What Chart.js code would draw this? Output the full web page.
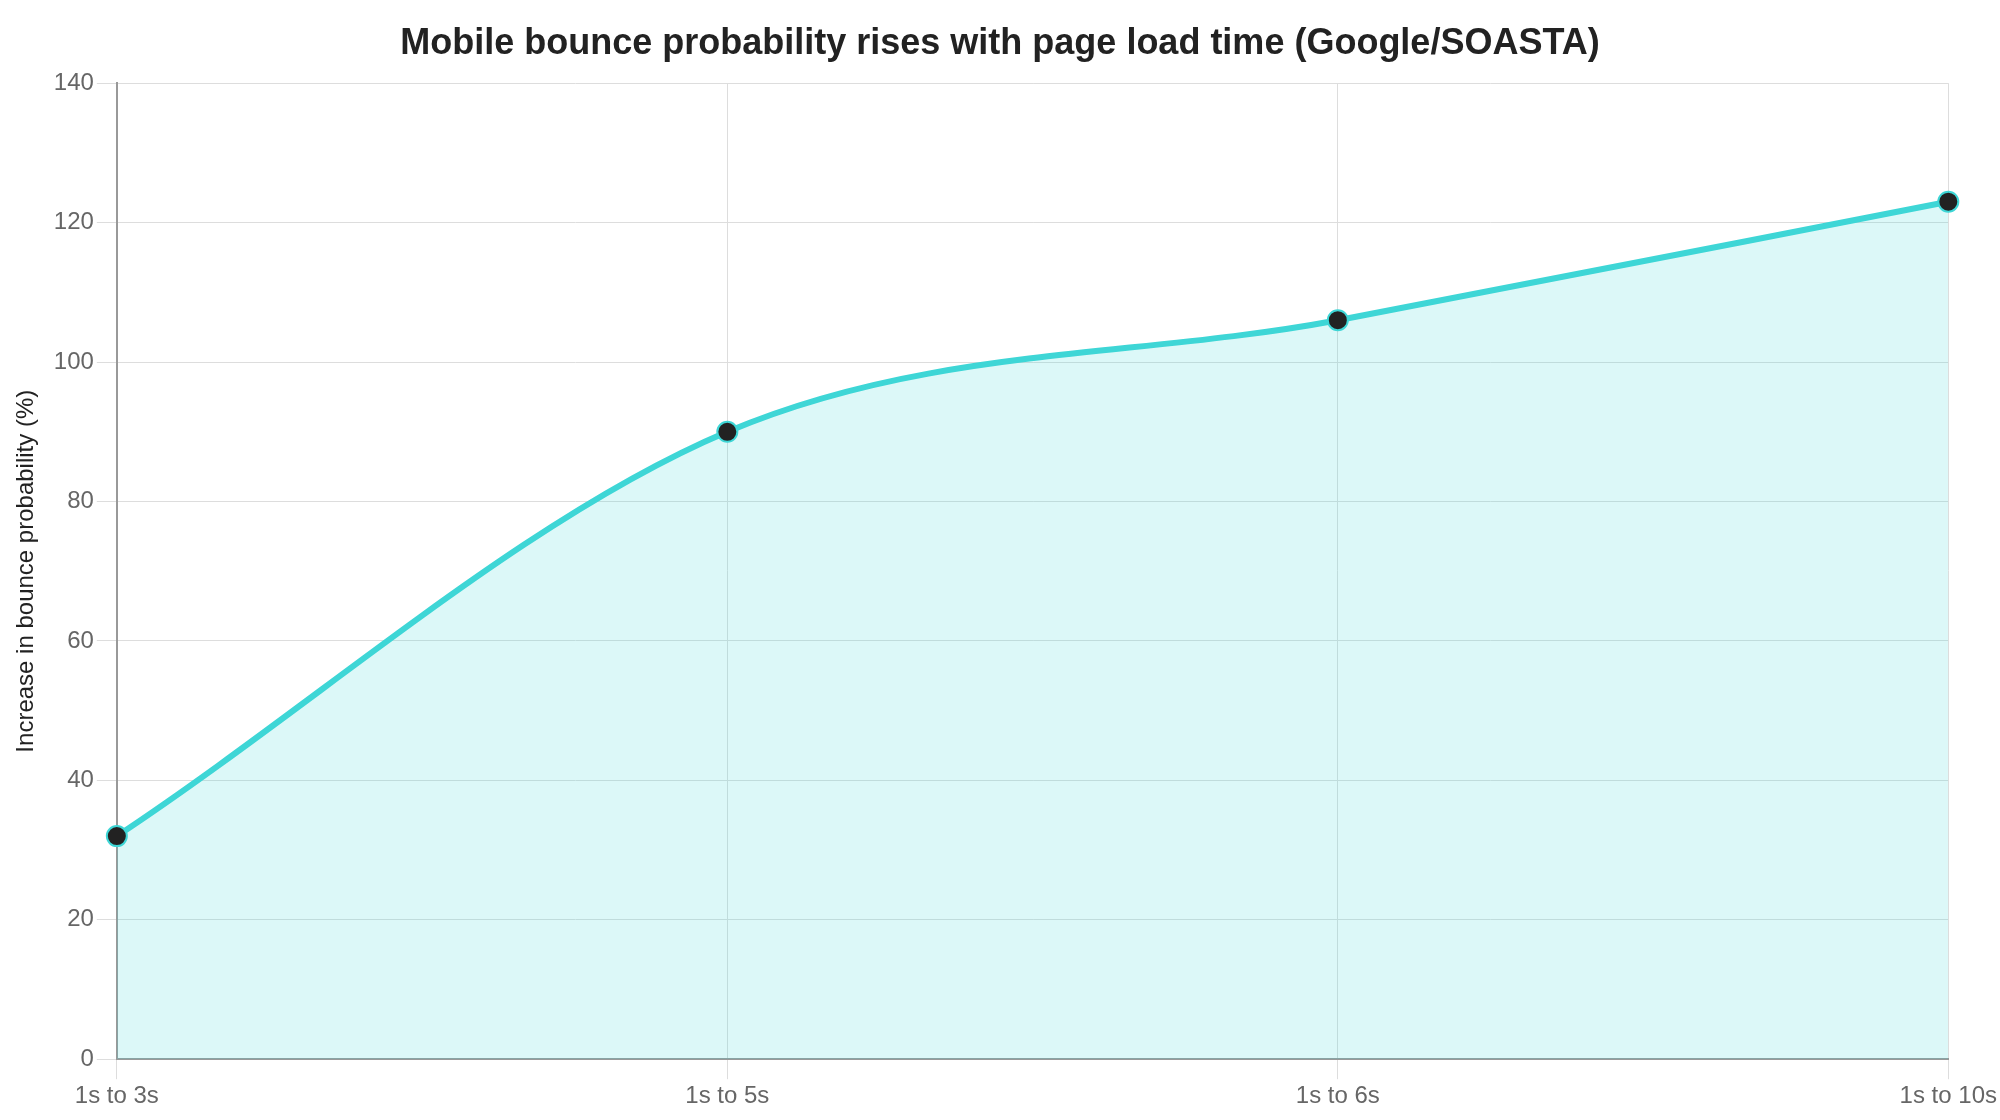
<!DOCTYPE html>
<html>
<head>
<meta charset="utf-8">
<script src="https://cdn.jsdelivr.net/npm/chart.js@4/dist/chart.umd.min.js"></script>
<style>
  html, body { margin: 0; padding: 0; background: #fff; }
  #wrap { width: 2000px; height: 1120px; }
</style>
</head>
<body>
<div id="wrap"><canvas id="chart"></canvas></div>
<script>
const loadTimes = ["1s to 3s", "1s to 5s", "1s to 6s", "1s to 10s"];
const bounceIncrease = [32, 90, 106, 123];

const lineColor = "#3ED6D6";

new Chart(document.getElementById("chart"), {
  type: "line",
  data: {
    labels: loadTimes,
    datasets: [{
      label: "Increase in bounce probability (%)",
      data: bounceIncrease,
      borderColor: lineColor,
      backgroundColor: "rgba(62, 214, 214, 0.18)",
      borderWidth: 6,
      fill: true,
      cubicInterpolationMode: "monotone",
      pointRadius: 10,
      pointBackgroundColor: "#222222",
      pointBorderColor: lineColor,
      pointBorderWidth: 2,
    }],
  },
  options: {
    responsive: true,
    maintainAspectRatio: false,
    animation: false,
    layout: { padding: { left: 8, right: 8, top: 12, bottom: 6 } },
    plugins: {
      legend: { display: false },
      title: {
        display: true,
        text: "Mobile bounce probability rises with page load time (Google/SOASTA)",
        color: "#222",
        font: { family: "Liberation Sans", size: 36, weight: "bold" },
        padding: { top: 10, bottom: 18 },
      },
    },
    scales: {
      x: {
        grid: { color: "#dddddd", tickLength: 20 },
        border: { color: "#999999", width: 2 },
        ticks: { color: "#666", padding: 3, font: { family: "Liberation Sans", size: 24 } },
      },
      y: {
        min: 0,
        max: 140,
        ticks: { stepSize: 20, color: "#666", padding: 3, font: { family: "Liberation Sans", size: 24 } },
        grid: { color: "#dddddd", tickLength: 20 },
        border: { color: "#999999", width: 2 },
        title: {
          display: true,
          text: "Increase in bounce probability (%)",
          color: "#222",
          padding: { top: 4, bottom: 10 },
          font: { family: "Liberation Sans", size: 24 },
        },
      },
    },
  },
});
</script>
</body>
</html>
